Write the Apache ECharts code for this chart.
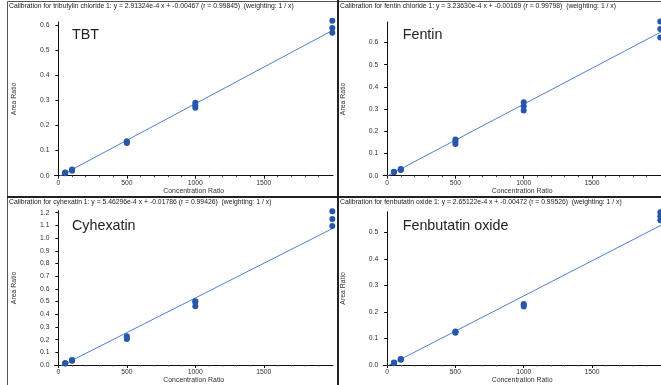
<!DOCTYPE html>
<html>
<head>
<meta charset="utf-8">
<script src="https://cdn.jsdelivr.net/npm/echarts@6/dist/echarts.min.js"></script>
<style>
  html, body { margin: 0; padding: 0; background: #fff; }
  #chart { width: 661px; height: 385px; }
</style>
</head>
<body>
<div id="chart"></div>
<script>
// concentration level of every injection (3 replicates per level)
const concRatio = [50, 50, 50, 100, 100, 100, 500, 500, 500, 1000, 1000, 1000, 2000, 2000, 2000];

// area ratios
const areaTBT = [0.010, 0.012, 0.013, 0.020, 0.023, 0.025, 0.130, 0.134, 0.137, 0.290, 0.280, 0.271, 0.617, 0.588, 0.569];
const areaFentin = [0.015, 0.017, 0.018, 0.026, 0.028, 0.030, 0.163, 0.153, 0.143, 0.331, 0.313, 0.294, 0.694, 0.661, 0.622];
const areaCyhexatin = [0.011, 0.013, 0.014, 0.033, 0.036, 0.039, 0.226, 0.214, 0.205, 0.503, 0.497, 0.463, 1.211, 1.151, 1.096];
const areaFenbutatin = [0.007, 0.008, 0.009, 0.020, 0.022, 0.023, 0.122, 0.124, 0.126, 0.230, 0.226, 0.221, 0.576, 0.561, 0.546];

// calibration fits (from the panel headers)
const compounds = ['TBT', 'Fentin', 'Cyhexatin', 'Fenbutatin oxide'];
const headers = [
    'Calibration for tributylin chloride 1: y = 2.91324e-4 x + -0.00467 (r = 0.99845)  (weighting: 1 / x)',
    'Calibration for fentin chloride 1: y = 3.23630e-4 x + -0.00169 (r = 0.99798)  (weighting: 1 / x)',
    'Calibration for cyhexatin 1: y = 5.46296e-4 x + -0.01786 (r = 0.99426)  (weighting: 1 / x)',
    'Calibration for fenbutatin oxide 1: y = 2.65122e-4 x + -0.00472 (r = 0.99526)  (weighting: 1 / x)'
];
const slopes = [2.91324e-4, 3.23630e-4, 5.46296e-4, 2.65122e-4];
const intercepts = [-0.00467, -0.00169, -0.01786, -0.00472];
const fitRange = [0, 2005];

// axes
const xMin = -28;
const xMax = 2005;
const xTicks = [0, 500, 1000, 1500];
const xMinorTicks = [100, 200, 300, 400, 600, 700, 800, 900, 1100, 1200, 1300, 1400, 1600, 1700, 1800, 1900];
const yTicksSmall = [0, 0.1, 0.2, 0.3, 0.4, 0.5, 0.6];
const yTicksCyhexatin = [0, 0.1, 0.2, 0.3, 0.4, 0.5, 0.6, 0.7, 0.8, 0.9, 1.0, 1.1, 1.2];
const yTicksFenbutatin = [0, 0.1, 0.2, 0.3, 0.4, 0.5];
const yMax = [0.612, 0.692, 1.216, 0.578];

const areaData = [areaTBT, areaFentin, areaCyhexatin, areaFenbutatin];
const yTicks = [yTicksSmall, yTicksSmall, yTicksCyhexatin, yTicksFenbutatin];

const FONT = '"Liberation Sans", Arial, sans-serif';
const DOT = '#2657a8';
const FIT = '#4f80d2';

const gridBoxes = [
    { left: 54.5, top: 22, width: 278.5, height: 153.7 },
    { left: 383.3, top: 22, width: 278.5, height: 153.7 },
    { left: 54.5, top: 210.7, width: 278.5, height: 155 },
    { left: 383.3, top: 211.7, width: 278.5, height: 154 }
];
const headerPos = [[9, 3], [340, 3], [9, 199], [340, 199]];
const namePos = [[72, 28], [402.7, 28], [72, 219.5], [402.7, 219.5]];

const chart = echarts.init(document.getElementById('chart'));

const grid = [];
const xAxis = [];
const yAxis = [];
const series = [];
const title = [];

compounds.forEach((name, i) => {
    grid.push(Object.assign({ containLabel: false }, gridBoxes[i]));

    title.push({
        text: headers[i],
        left: headerPos[i][0],
        top: headerPos[i][1],
        padding: 0,
        textStyle: { fontFamily: FONT, fontSize: 6.8, fontWeight: 'normal', color: '#222' }
    });
    title.push({
        text: name,
        left: namePos[i][0],
        top: namePos[i][1],
        padding: 0,
        textStyle: { fontFamily: FONT, fontSize: 14.3, fontWeight: 'normal', color: '#222' }
    });

    xAxis.push({
        type: 'value',
        gridIndex: i,
        min: xMin,
        max: xMax,
        position: 'bottom',
        name: 'Concentration Ratio',
        nameLocation: 'middle',
        nameGap: 12,
        nameTextStyle: { fontFamily: FONT, fontSize: 6.9, color: '#333' },
        axisLine: { lineStyle: { color: '#111', width: 1 } },
        axisTick: { customValues: xTicks, length: 3, lineStyle: { color: '#111' } },
        axisLabel: {
            customValues: xTicks,
            margin: 4,
            fontFamily: FONT,
            fontSize: 6.8,
            color: '#333',
            formatter: v => String(v)
        },
        splitLine: { show: false }
    });
    xAxis.push({
        type: 'value',
        gridIndex: i,
        min: xMin,
        max: xMax,
        position: 'bottom',
        axisLine: { show: false },
        axisTick: { customValues: xMinorTicks, length: 1.5, lineStyle: { color: '#444' } },
        axisLabel: { show: false },
        splitLine: { show: false }
    });

    yAxis.push({
        type: 'value',
        gridIndex: i,
        min: 0,
        max: yMax[i],
        name: 'Area Ratio',
        nameLocation: 'middle',
        nameGap: 37,
        nameTextStyle: { fontFamily: FONT, fontSize: 6.9, color: '#333' },
        axisLine: { show: true, lineStyle: { color: '#111', width: 1 } },
        axisTick: { show: true, customValues: yTicks[i], length: 3, lineStyle: { color: '#111' } },
        axisLabel: {
            customValues: yTicks[i],
            margin: 5,
            fontFamily: FONT,
            fontSize: 6.8,
            color: '#333',
            formatter: v => v.toFixed(1)
        },
        splitLine: { show: false }
    });

    series.push({
        name: name + ' fit',
        type: 'line',
        xAxisIndex: i * 2,
        yAxisIndex: i,
        data: fitRange.map(x => [x, slopes[i] * x + intercepts[i]]),
        symbol: 'none',
        clip: true,
        lineStyle: { color: FIT, width: 1 },
        silent: true,
        z: 2
    });
    series.push({
        name: name,
        type: 'scatter',
        xAxisIndex: i * 2,
        yAxisIndex: i,
        data: concRatio.map((c, k) => [c, areaData[i][k]]),
        symbolSize: 6,
        clip: false,
        itemStyle: { color: DOT, opacity: 1 },
        z: 3
    });
});

const frameLine = (x1, y1, x2, y2, color, width) => ({
    type: 'line',
    shape: { x1, y1, x2, y2 },
    style: { stroke: color, lineWidth: width },
    z: 10
});

chart.setOption({
    animation: false,
    backgroundColor: '#fff',
    title: title,
    grid: grid,
    xAxis: xAxis,
    yAxis: yAxis,
    series: series,
    graphic: [
        frameLine(7.5, 1.5, 7.5, 385, '#555', 1),
        frameLine(7.5, 1.5, 661, 1.5, '#555', 1),
        frameLine(338, 0, 338, 385, '#222', 2),
        frameLine(7, 197, 661, 197, '#222', 2)
    ]
});
</script>
</body>
</html>
